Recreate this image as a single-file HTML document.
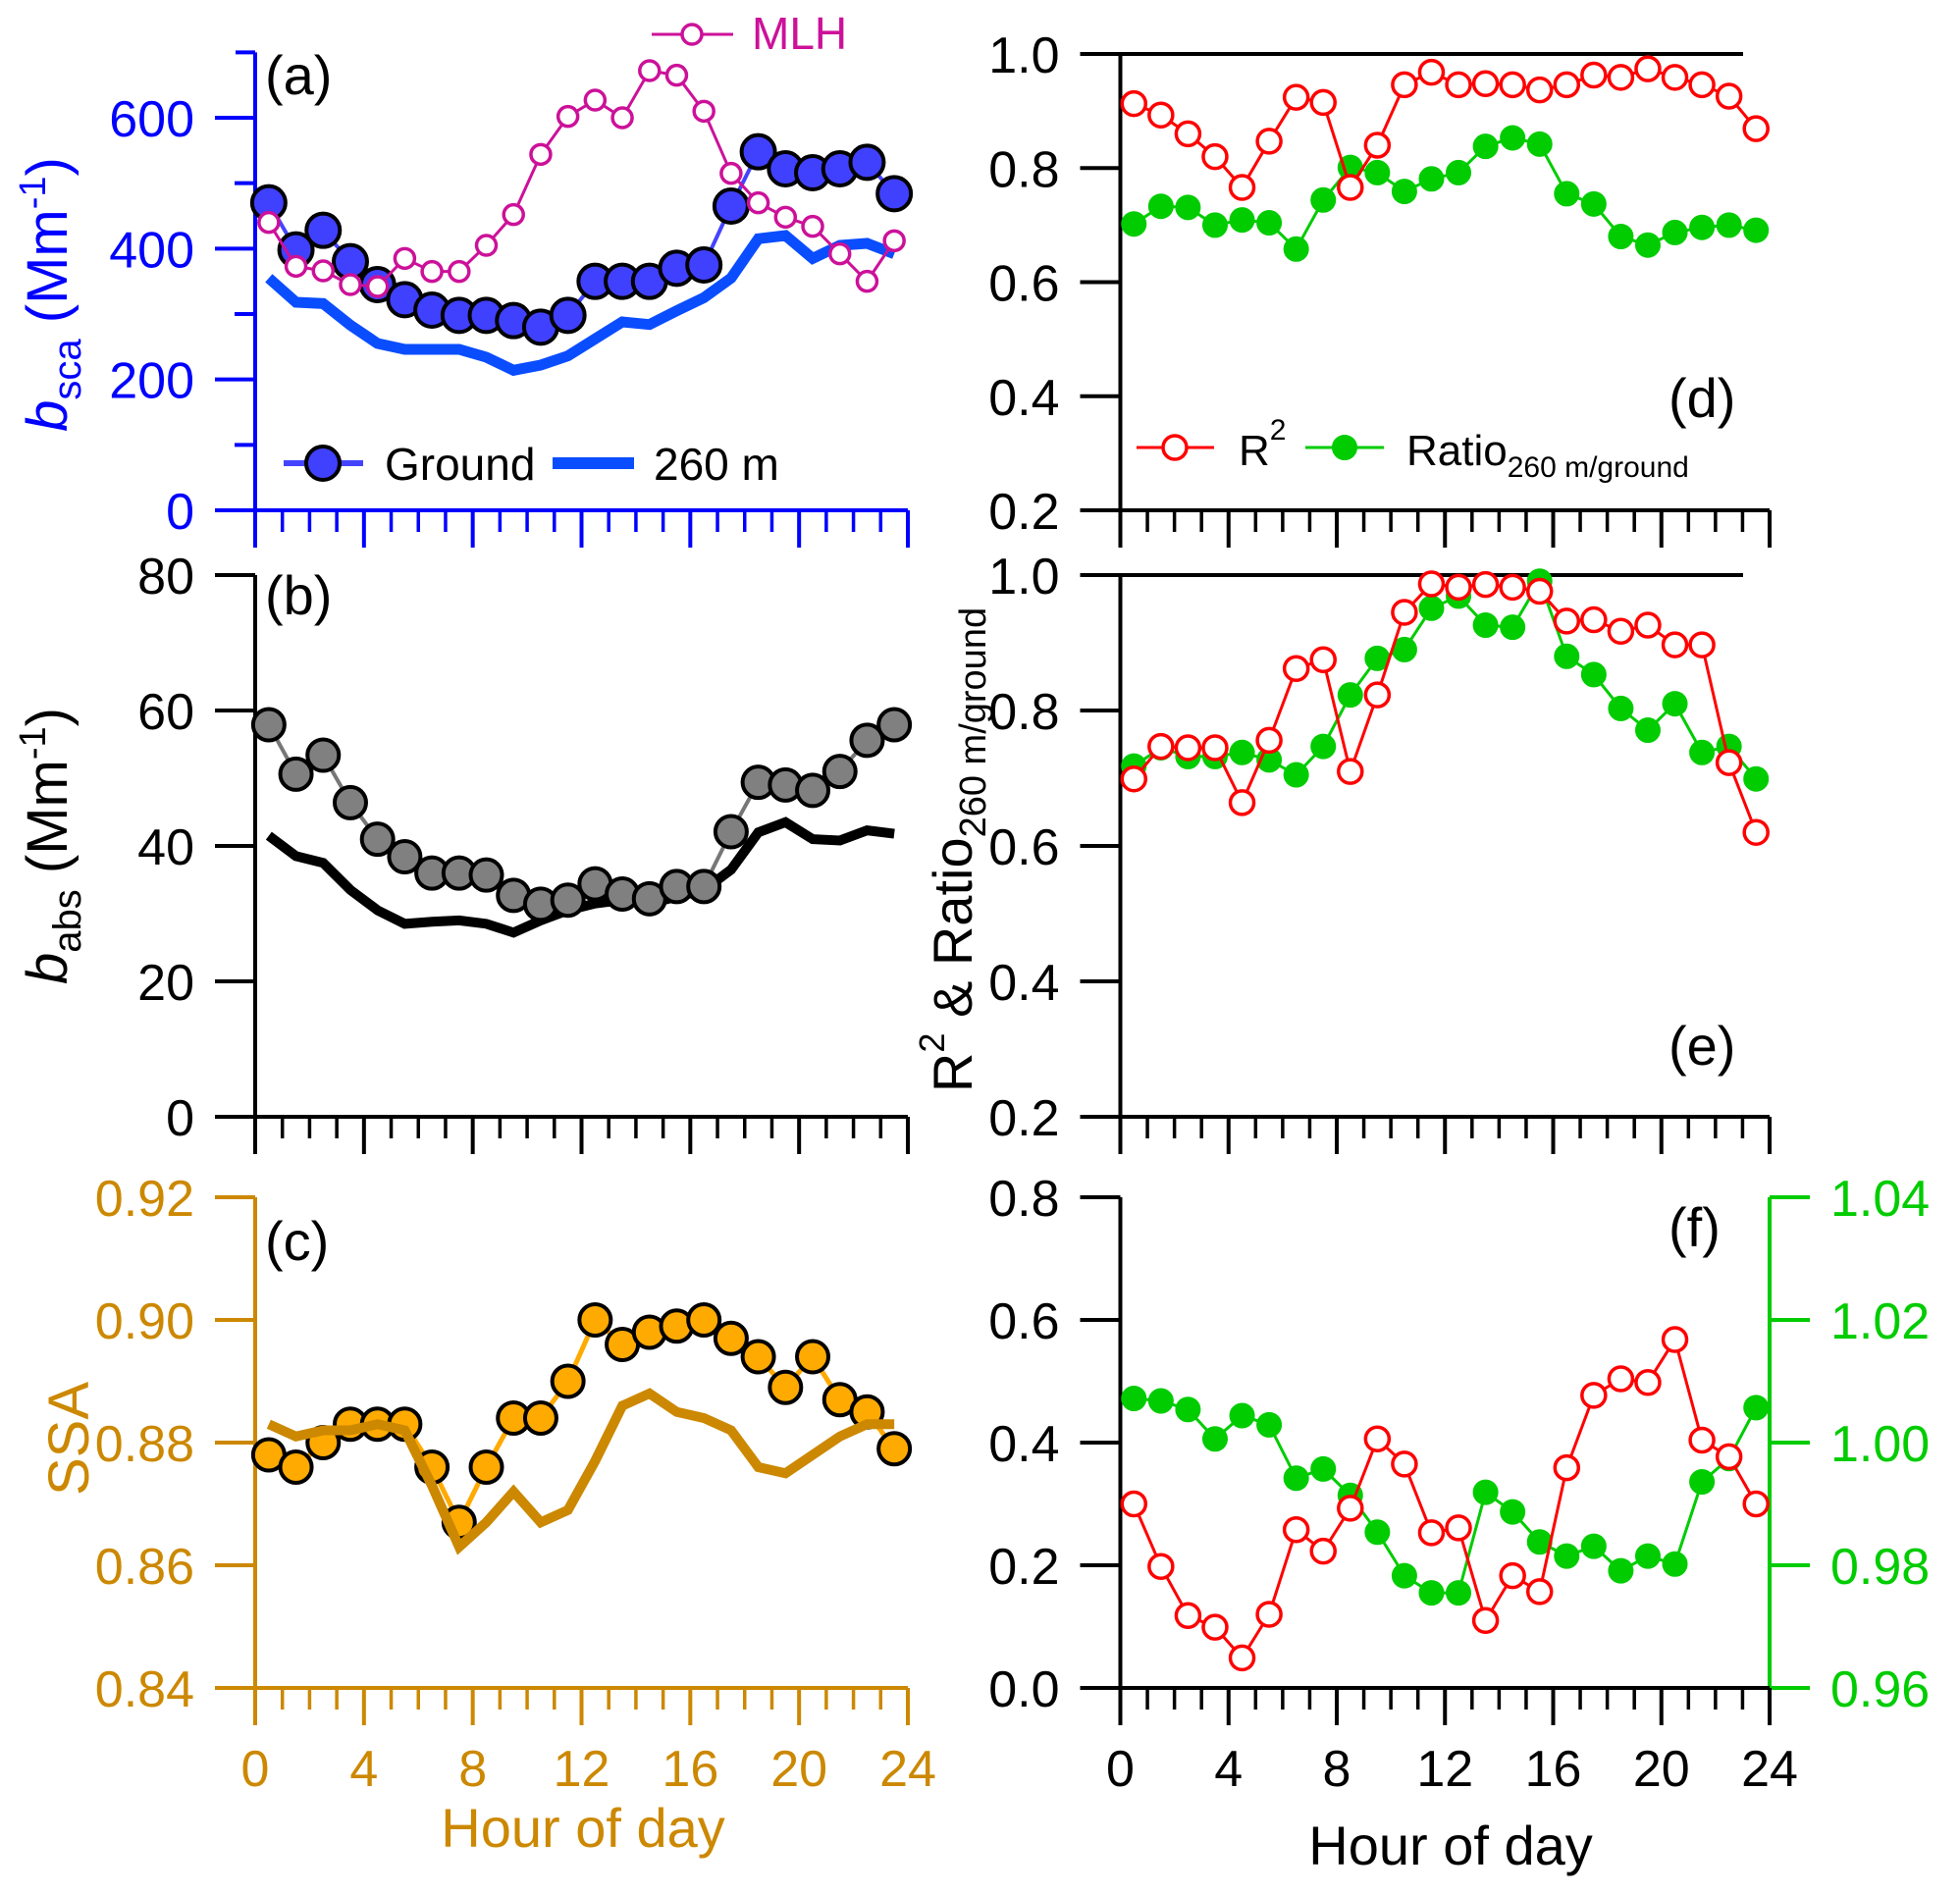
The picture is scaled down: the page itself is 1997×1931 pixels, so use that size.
<!DOCTYPE html>
<html><head><meta charset="utf-8"><style>
html,body{margin:0;padding:0;background:#fff;}
svg{display:block;font-family:"Liberation Sans",sans-serif;}
</style></head><body>
<svg id="fig" width="1997" height="1931" viewBox="0 0 1997 1931" xmlns="http://www.w3.org/2000/svg"></svg>
<script>
const hours = [0.5,1.5,2.5,3.5,4.5,5.5,6.5,7.5,8.5,9.5,10.5,11.5,12.5,13.5,14.5,15.5,16.5,17.5,18.5,19.5,20.5,21.5,22.5,23.5];
const scaGround = [470,398,428,380,345,322,306,298,298,290,280,298,350,350,350,370,375,465,548,522,516,522,532,484];
const sca260 = [355,318,316,283,255,246,246,246,234,214,222,236,262,288,284,305,325,355,415,420,385,405,408,392];
const mlh = [440,373,366,345,342,385,365,365,405,452,544,602,627,600,672,665,610,515,470,448,434,392,350,412];
const absGround = [57.9,50.6,53.4,46.4,41.0,38.4,36.0,36.0,35.7,32.7,31.4,32.0,34.4,32.9,32.2,34.0,34.0,42.1,49.4,49.0,48.2,51.0,55.6,57.9];
const abs260 = [41.5,38.5,37.5,33.5,30.5,28.5,28.8,29.0,28.5,27.2,29.0,30.5,31.5,32.0,31.5,32.5,33.5,36.5,42.0,43.5,41.0,40.8,42.3,41.8];
const ssaGround = [0.878,0.876,0.880,0.883,0.883,0.883,0.876,0.867,0.876,0.884,0.884,0.890,0.900,0.896,0.898,0.899,0.900,0.897,0.894,0.889,0.894,0.887,0.885,0.879];
const ssa260 = [0.883,0.881,0.882,0.882,0.883,0.882,0.873,0.863,0.867,0.872,0.867,0.869,0.877,0.886,0.888,0.885,0.884,0.882,0.876,0.875,0.878,0.881,0.883,0.883];
const dR2 = [0.913,0.893,0.860,0.820,0.766,0.847,0.924,0.915,0.766,0.840,0.946,0.968,0.946,0.948,0.946,0.937,0.946,0.963,0.959,0.974,0.959,0.946,0.926,0.869];
const dRatio = [0.702,0.733,0.731,0.700,0.709,0.704,0.658,0.744,0.801,0.792,0.759,0.781,0.792,0.838,0.853,0.842,0.755,0.737,0.680,0.665,0.687,0.696,0.700,0.691];
const eR2 = [0.699,0.747,0.745,0.745,0.664,0.756,0.862,0.875,0.710,0.823,0.945,0.987,0.982,0.986,0.982,0.976,0.932,0.934,0.917,0.926,0.897,0.897,0.723,0.620];
const eRatio = [0.718,0.745,0.732,0.732,0.738,0.727,0.705,0.747,0.823,0.877,0.890,0.951,0.969,0.926,0.923,0.991,0.880,0.853,0.803,0.771,0.810,0.738,0.747,0.699];
const fR2 = [0.300,0.198,0.118,0.099,0.049,0.120,0.258,0.223,0.293,0.406,0.365,0.253,0.261,0.110,0.183,0.157,0.359,0.477,0.504,0.498,0.568,0.404,0.377,0.300];
const fRatio = [1.0072,1.0068,1.0054,1.0006,1.0044,1.0029,0.9942,0.9957,0.9914,0.9854,0.9783,0.9755,0.9755,0.9919,0.9887,0.9838,0.9815,0.9831,0.9791,0.9815,0.9802,0.9936,0.9974,1.0057];
const xTicks = ["0","4","8","12","16","20","24"];
const ticksA = ["0","200","400","600"];
const ticksB = ["0","20","40","60","80"];
const ticksC = ["0.84","0.86","0.88","0.90","0.92"];
const ticksDE = ["0.2","0.4","0.6","0.8","1.0"];
const ticksF = ["0.0","0.2","0.4","0.6","0.8"];
const ticksF2 = ["0.96","0.98","1.00","1.02","1.04"];

const NS="http://www.w3.org/2000/svg";
const svg=document.getElementById('fig');
function el(tag,attrs,parent){const e=document.createElementNS(NS,tag);for(const k in attrs)e.setAttribute(k,attrs[k]);(parent||svg).appendChild(e);return e;}
function txt(s,attrs,parent){const e=el('text',attrs,parent);e.textContent=s;return e;}
const BLUE='#0000ff', ORANGE='#cc8800', GREEN='#00cc00', RED='#ff0000', MAG='#cc1199';
const FS=52;
function xs(L,R){return h=>L+(R-L)*h/24;}
function ys(bot,top,v0,v1){return v=>bot-(bot-top)*(v-v0)/(v1-v0);}

function xAxis(g,X,yb,color,labels,labelColor){
  el('line',{x1:X(0)-41,y1:yb,x2:X(24),y2:yb,stroke:color,'stroke-width':4},g);
  for(let h=0;h<=24;h++){const maj=h%4===0;
    const t=el('line',{x1:X(h),y1:yb,x2:X(h),y2:yb+(maj?38:22),stroke:color,'stroke-width':maj?4:3.5},g);
    }
  if(labels){xTicks.forEach((s,i)=>{const t=txt(s,{x:X(i*4),y:yb+100,'font-size':FS,fill:labelColor,'text-anchor':'middle'},g);
    });}
}
function yAxis(g,xl,Y,vals,labels,color,minorVals,side){
  const dir=side==='right'?1:-1;
  el('line',{x1:xl,y1:Y(vals[0]),x2:xl,y2:Y(vals[vals.length-1]),stroke:color,'stroke-width':4},g);
  vals.forEach((v,i)=>{
    const t=el('line',{x1:xl,y1:Y(v),x2:xl+dir*41,y2:Y(v),stroke:color,'stroke-width':4},g);
    
    const l=txt(labels[i],{x:xl+dir*62,y:Y(v)+19,'font-size':FS,fill:color,'text-anchor':side==='right'?'start':'end'},g);
    });
  (minorVals||[]).forEach(v=>{el('line',{x1:xl,y1:Y(v),x2:xl+dir*21,y2:Y(v),stroke:color,'stroke-width':4},g);});
}
function line(g,X,Y,data,color,w,name){
  const p=el('polyline',{points:data.map((v,i)=>X(hours[i])+','+Y(v)).join(' '),fill:'none',stroke:color,'stroke-width':w,'stroke-linejoin':'miter'},g);
  return p;
}
function markers(g,X,Y,data,r,fill,stroke,sw,name){
  data.forEach((v,i)=>{const c=el('circle',{cx:X(hours[i]),cy:Y(v),r:r,fill:fill,stroke:stroke,'stroke-width':sw},g);
    });
}
function panelLabel(g,s,x,y){const t=txt(s,{x:x,y:y,'font-size':56,fill:'#000'},g);}

const XL=xs(260,925), XR=xs(1141.5,1803);

// Panel a
const ga=el('g',{});
const Ya=ys(520,120,0,600);
yAxis(ga,260,Ya,[0,200,400,600],ticksA,BLUE,[100,300,500]);
el('line',{x1:260,y1:Ya(600),x2:260,y2:Ya(700),stroke:BLUE,'stroke-width':4},ga);
el('line',{x1:260,y1:Ya(700),x2:240,y2:Ya(700),stroke:BLUE,'stroke-width':4},ga);
xAxis(ga,XL,520,BLUE,false);
line(ga,XL,Ya,sca260,'#0a4dff',11,'line-260m');
line(ga,XL,Ya,scaGround,'#4444ff',4,'line-ground');
markers(ga,XL,Ya,scaGround,17,'#4040ff','#000',4,'marker-ground');
line(ga,XL,Ya,mlh,MAG,3,'line-mlh');
markers(ga,XL,Ya,mlh,10,'#fff',MAG,3.5,'marker-mlh');
panelLabel(ga,'(a)',270,96);
const la=txt('',{transform:'translate(68,300) rotate(-90)','font-size':58,fill:BLUE,'text-anchor':'middle'},ga);

la.innerHTML='<tspan font-style="italic">b</tspan><tspan font-size="40" dy="14">sca</tspan><tspan dy="-14"> (Mm</tspan><tspan font-size="38" dy="-22">-1</tspan><tspan dy="22">)</tspan>';
// legend a
const lg=el('g',{});ga.appendChild(lg);
el('line',{x1:289,y1:472,x2:370,y2:472,stroke:'#4444ff','stroke-width':6},lg);
el('circle',{cx:329,cy:472,r:17,fill:'#4040ff',stroke:'#000','stroke-width':4},lg);
txt('Ground',{x:392,y:489,'font-size':46,fill:'#000'},lg);
el('line',{x1:563,y1:472,x2:646,y2:472,stroke:'#0a4dff','stroke-width':12},lg);
txt('260 m',{x:666,y:489,'font-size':46,fill:'#000'},lg);
el('line',{x1:664,y1:35,x2:747,y2:35,stroke:MAG,'stroke-width':3},lg);
el('circle',{cx:705,cy:35,r:10,fill:'#fff',stroke:MAG,'stroke-width':3.5},lg);
txt('MLH',{x:766,y:50,'font-size':46,fill:MAG},lg);

// Panel b
const gb=el('g',{});
const Yb=ys(1138,586,0,80);
yAxis(gb,260,Yb,[0,20,40,60,80],ticksB,'#000');
xAxis(gb,XL,1138,'#000',false);
line(gb,XL,Yb,abs260,'#000',10,'line-abs-260m');
line(gb,XL,Yb,absGround,'#777',4,'line-abs-ground');
markers(gb,XL,Yb,absGround,16,'#808080','#000',4,'marker-abs-ground');
panelLabel(gb,'(b)',270,626);
const lb=txt('',{transform:'translate(68,862) rotate(-90)','font-size':58,fill:'#000','text-anchor':'middle'},gb);

lb.innerHTML='<tspan font-style="italic">b</tspan><tspan font-size="40" dy="14">abs</tspan><tspan dy="-14"> (Mm</tspan><tspan font-size="38" dy="-22">-1</tspan><tspan dy="22">)</tspan>';

// Panel c
const gc=el('g',{});
const Yc=ys(1720,1220,0.84,0.92);
yAxis(gc,260,Yc,[0.84,0.86,0.88,0.90,0.92],ticksC,ORANGE);
xAxis(gc,XL,1720,ORANGE,true,ORANGE);
line(gc,XL,Yc,ssaGround,'#ffaa00',5,'line-ssa-ground');
markers(gc,XL,Yc,ssaGround,16,'#ffaa00','#000',4,'marker-ssa-ground');
line(gc,XL,Yc,ssa260,ORANGE,10,'line-ssa-260m');
panelLabel(gc,'(c)',270,1284);
const lc=txt('SSA',{transform:'translate(90,1466) rotate(-90)','font-size':58,fill:ORANGE,'text-anchor':'middle'},gc);

const xlL=txt('Hour of day',{x:594,y:1882,'font-size':56,fill:ORANGE,'text-anchor':'middle'},gc);


// Panel d
const gd=el('g',{});
const Yd=ys(520,55,0.2,1.0);
yAxis(gd,1141.5,Yd,[0.2,0.4,0.6,0.8,1.0],ticksDE,'#000');
el('line',{x1:1141.5,y1:Yd(1),x2:1776,y2:Yd(1),stroke:'#000','stroke-width':4},gd);
xAxis(gd,XR,520,'#000',false);
line(gd,XR,Yd,dRatio,GREEN,3,'line-d-ratio');
markers(gd,XR,Yd,dRatio,12,GREEN,GREEN,2,'marker-d-ratio');
line(gd,XR,Yd,dR2,RED,3,'line-d-r2');
markers(gd,XR,Yd,dR2,12,'#fff',RED,3.5,'marker-d-r2');
panelLabel(gd,'(d)',1700,425);
const ld=el('g',{});gd.appendChild(ld);
el('line',{x1:1158,y1:456,x2:1237,y2:456,stroke:RED,'stroke-width':3},ld);
el('circle',{cx:1197,cy:456,r:12,fill:'#fff',stroke:RED,'stroke-width':3.5},ld);
const r2t=txt('',{x:1262,y:474,'font-size':44,fill:'#000'},ld);r2t.innerHTML='R<tspan font-size="30" dy="-26">2</tspan>';
el('line',{x1:1330,y1:456,x2:1410,y2:456,stroke:GREEN,'stroke-width':3},ld);
el('circle',{cx:1370,cy:456,r:12,fill:GREEN,stroke:GREEN,'stroke-width':2},ld);
const rt=txt('',{x:1433,y:474,'font-size':44,fill:'#000'},ld);rt.innerHTML='Ratio<tspan font-size="30" dy="12">260 m/ground</tspan>';

// Panel e
const ge=el('g',{});
const Ye=ys(1138,586,0.2,1.0);
yAxis(ge,1141.5,Ye,[0.2,0.4,0.6,0.8,1.0],ticksDE,'#000');
el('line',{x1:1141.5,y1:Ye(1),x2:1776,y2:Ye(1),stroke:'#000','stroke-width':4},ge);
xAxis(ge,XR,1138,'#000',false);
line(ge,XR,Ye,eRatio,GREEN,3,'line-e-ratio');
markers(ge,XR,Ye,eRatio,12,GREEN,GREEN,2,'marker-e-ratio');
line(ge,XR,Ye,eR2,RED,3,'line-e-r2');
markers(ge,XR,Ye,eR2,12,'#fff',RED,3.5,'marker-e-r2');
panelLabel(ge,'(e)',1700,1085);
const le=txt('',{transform:'translate(990,866) rotate(-90)','font-size':56,fill:'#000','text-anchor':'middle'},ge);

le.innerHTML='R<tspan font-size="36" dy="-28">2</tspan><tspan dy="28"> &amp; Ratio</tspan><tspan font-size="38" dy="14">260 m/ground</tspan>';

// Panel f
const gf=el('g',{});
const Yf=ys(1720,1220,0,0.8);
const Yf2=ys(1720,1220,0.96,1.04);
yAxis(gf,1141.5,Yf,[0,0.2,0.4,0.6,0.8],ticksF,'#000');
yAxis(gf,1803,Yf2,[0.96,0.98,1.00,1.02,1.04],ticksF2,GREEN,null,'right');
xAxis(gf,XR,1720,'#000',true,'#000');
line(gf,XR,Yf2,fRatio,GREEN,3,'line-f-ratio');
markers(gf,XR,Yf2,fRatio,12,GREEN,GREEN,2,'marker-f-ratio');
line(gf,XR,Yf,fR2,RED,3,'line-f-r2');
markers(gf,XR,Yf,fR2,12,'#fff',RED,3.5,'marker-f-r2');
panelLabel(gf,'(f)',1700,1270);
const xlR=txt('Hour of day',{x:1478,y:1900,'font-size':56,fill:'#000','text-anchor':'middle'},gf);

</script>
</body></html>
